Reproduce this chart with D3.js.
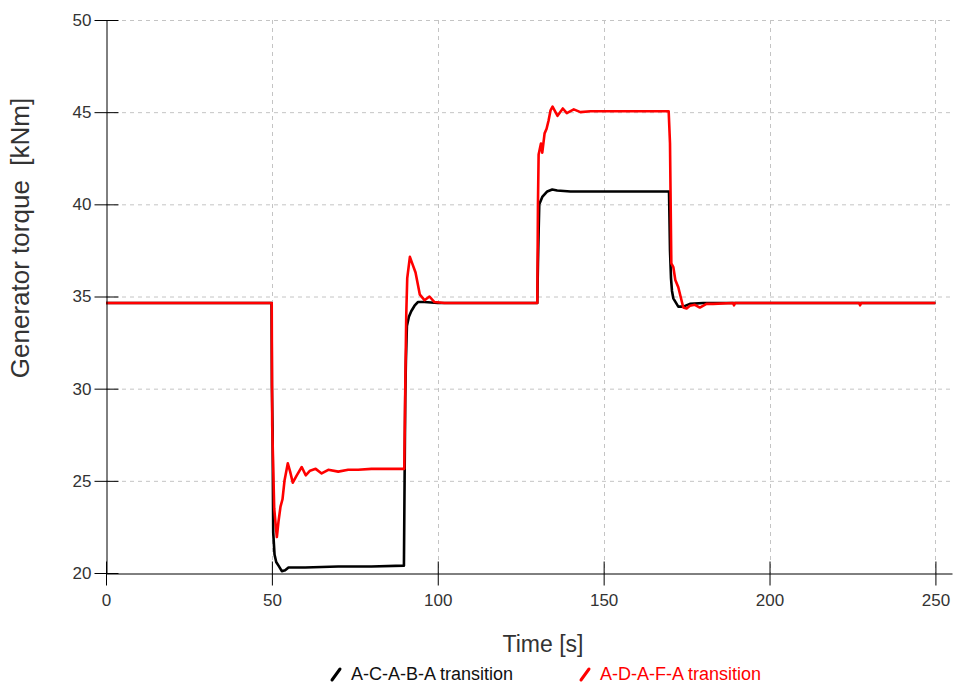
<!DOCTYPE html>
<html>
<head>
<meta charset="utf-8">
<script src="https://cdn.jsdelivr.net/npm/d3@7"></script>
<style>
  body { margin: 0; background: #fff; }
  text { font-family: "Liberation Sans", Arial, sans-serif; }
</style>
</head>
<body>
<div id="chart"></div>
<script>
// data: [time s, torque kNm]
const seriesNames = ["A-C-A-B-A transition", "A-D-A-F-A transition"];
const seriesColors = ["#000000", "#ff0000"];

const blackSeries = [
    [0, 34.65], [49.9, 34.65], [50, 30.2], [50.2, 27.8], [50.4, 22.2], [50.8, 21.0],
    [51.3, 20.6], [52, 20.4], [53, 20.1], [54, 20.15], [55, 20.3], [60, 20.3],
    [70, 20.35], [80, 20.35], [89.8, 20.4], [90, 25], [90.2, 29.5], [90.4, 31.5],
    [90.7, 33.4], [91.3, 33.9], [92, 34.2], [93, 34.5], [94, 34.7], [96, 34.7],
    [100, 34.65], [130, 34.65], [130.2, 36.8], [130.4, 38.5], [130.6, 40.0],
    [131.5, 40.4], [133, 40.7], [134.5, 40.8], [136, 40.75], [140, 40.7], [150, 40.7],
    [169.7, 40.7], [169.8, 39.7], [170, 37.5], [170.3, 36.0], [170.6, 35.3],
    [171, 34.9], [172.5, 34.45], [174, 34.45], [176, 34.6], [180, 34.65], [250, 34.65]
];

const redSeries = [
    [0, 34.65], [49.95, 34.65], [50.1, 28], [50.7, 23.5], [51.2, 22.5], [51.5, 21.95],
    [52, 22.8], [52.6, 23.6], [53.2, 24.0], [53.8, 25.0], [54.8, 25.95], [55.5, 25.5],
    [56.3, 24.9], [57.5, 25.3], [59, 25.75], [60.2, 25.3], [61.5, 25.55], [63.2, 25.65],
    [65, 25.4], [67, 25.6], [70, 25.5], [73, 25.6], [76, 25.6], [80, 25.65],
    [85, 25.65], [89.9, 25.65], [90.2, 30], [90.5, 34], [90.8, 36.0], [91.6, 37.15],
    [92.3, 36.8], [93.3, 36.3], [94.6, 35.1], [96, 34.8], [97.5, 35.0], [99, 34.7],
    [102, 34.65], [130, 34.65], [130.2, 40], [130.4, 42.7], [131.1, 43.3], [131.5, 42.8],
    [132.2, 43.85], [132.8, 44.1], [133.4, 44.55], [134, 45.1], [134.6, 45.3],
    [136.1, 44.8], [137.7, 45.2], [138.9, 44.95], [141, 45.15], [143, 45.0],
    [146, 45.05], [160, 45.05], [169.6, 45.05], [170, 43.3], [170.4, 36.8], [171, 36.6],
    [171.6, 35.9], [172.5, 35.5], [174, 34.4], [175, 34.35], [176, 34.5], [177.5, 34.55],
    [179, 34.4], [181, 34.6], [183, 34.6], [189, 34.65], [189.3, 34.52], [189.6, 34.65],
    [227, 34.65], [227.3, 34.52], [227.6, 34.65], [250, 34.65]
];

const xTicks = [0, 50, 100, 150, 200, 250];
const yTicks = [20, 25, 30, 35, 40, 45, 50];

// layout
const width = 954;
const height = 686;
const plot = {left: 106, right: 952, top: 20, bottom: 573};

const svg = d3.select("#chart")
    .append("svg")
        .attr("width", width)
        .attr("height", height);

const x = d3.scaleLinear()
    .domain([0, 255])
    .range([plot.left, plot.right]);

const y = d3.scaleLinear()
    .domain([20, 50])
    .range([plot.bottom, plot.top]);

// dashed grid
const grid = svg.append("g")
    .attr("stroke", "#c4c4c4")
    .attr("stroke-width", 1)
    .attr("stroke-dasharray", "4,4");

grid.selectAll(".hgrid")
    .data(yTicks.slice(1))
    .join("line")
        .attr("x1", plot.left)
        .attr("x2", plot.right)
        .attr("y1", d => y(d) + 0.5)
        .attr("y2", d => y(d) + 0.5);

grid.selectAll(".vgrid")
    .data(xTicks.slice(1))
    .join("line")
        .attr("x1", d => Math.round(x(d)) + 0.5)
        .attr("x2", d => Math.round(x(d)) + 0.5)
        .attr("y1", plot.top)
        .attr("y2", plot.bottom);

// series
const line = d3.line()
    .x(d => x(d[0]))
    .y(d => y(d[1]));

[blackSeries, redSeries].forEach((s, i) => {
    svg.append("path")
        .datum(s)
        .attr("fill", "none")
        .attr("stroke", seriesColors[i])
        .attr("stroke-width", 2.6)
        .attr("stroke-linejoin", "round")
        .attr("d", line);
});

// axes with ticks crossing the axis line
const xAxis = svg.append("g")
    .attr("transform", `translate(0, ${plot.bottom + 0.5})`)
    .call(d3.axisBottom(x).tickValues(xTicks).tickSizeInner(12).tickSizeOuter(0).tickPadding(8));

xAxis.selectAll(".tick line").attr("y1", -12);

const yAxis = svg.append("g")
    .attr("transform", `translate(${plot.left + 0.5}, 0)`)
    .call(d3.axisLeft(y).tickValues(yTicks).tickSizeInner(12).tickSizeOuter(0).tickPadding(3));

yAxis.selectAll(".tick line").attr("x1", 12);

svg.selectAll(".domain").attr("stroke", "#000");
svg.selectAll(".tick line").attr("stroke", "#000");
svg.selectAll(".tick text")
    .attr("font-family", "Liberation Sans, Arial, sans-serif")
    .attr("font-size", 17)
    .attr("fill", "#333");

// axis titles
svg.append("text")
    .attr("x", 543)
    .attr("y", 652)
    .attr("text-anchor", "middle")
    .attr("font-size", 23)
    .attr("fill", "#333")
    .text("Time [s]");

svg.append("text")
    .attr("transform", "translate(29, 238) rotate(-90)")
    .attr("text-anchor", "middle")
    .attr("font-size", 26)
    .attr("fill", "#333")
    .attr("xml:space", "preserve")
    .text("Generator torque  [kNm]");

// legend
const legendX = [332, 581];
seriesNames.forEach((name, i) => {
    const g = svg.append("g").attr("transform", `translate(${legendX[i]}, 680)`);
    g.append("line")
        .attr("x1", 0).attr("y1", 0)
        .attr("x2", 8).attr("y2", -11)
        .attr("stroke", seriesColors[i])
        .attr("stroke-width", 3)
        .attr("stroke-linecap", "round");
    g.append("text")
        .attr("x", 19)
        .attr("y", 0)
        .attr("font-size", 18)
        .attr("fill", i === 0 ? "#111" : seriesColors[i])
        .text(name);
});
</script>
</body>
</html>
